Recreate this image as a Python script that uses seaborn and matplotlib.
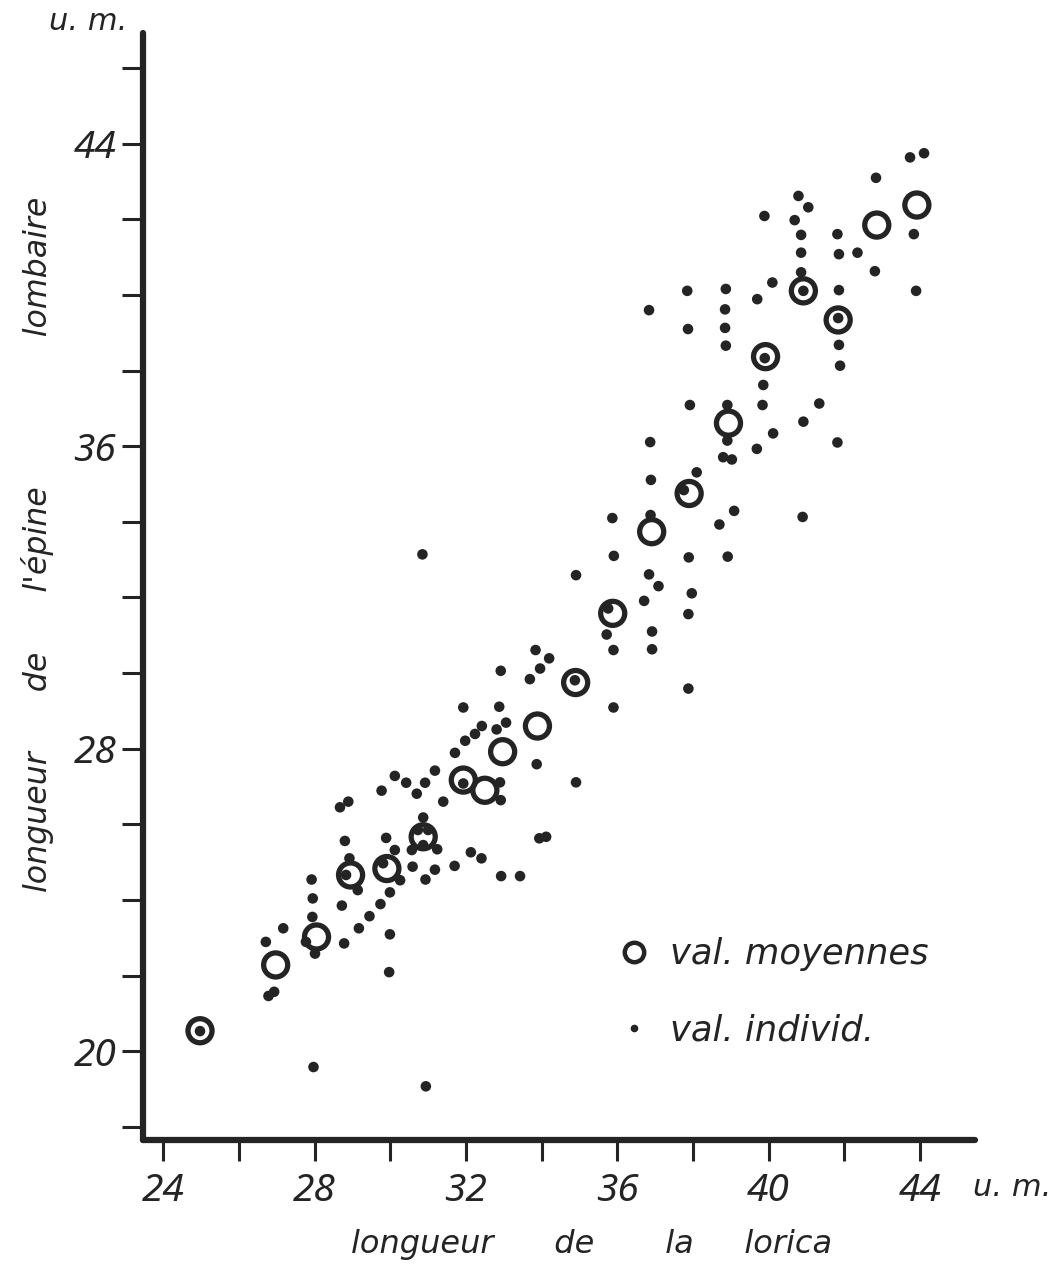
import matplotlib
matplotlib.use("Agg")
import matplotlib.pyplot as plt
from matplotlib.font_manager import FontProperties
from matplotlib.lines import Line2D
from matplotlib.ticker import FixedLocator
import seaborn as sns
import numpy as np

# ---------------- data ----------------
mean_x = [24.97, 26.97, 28.05, 28.95, 29.91, 30.87, 31.93, 32.50, 32.97, 33.89,
          34.90, 35.88, 36.91, 37.90, 38.94, 39.92, 40.92, 41.84, 42.86, 43.92]
mean_y = [20.54, 22.28, 23.02, 24.66, 24.83, 25.67, 27.17, 26.90, 27.92, 28.60,
          29.75, 31.58, 33.74, 34.75, 36.61, 38.37, 40.11, 39.34, 41.85, 42.38]

ind_x = [24.97, 27.97, 30.94, 26.78, 26.93, 26.71, 27.17, 28.01, 27.77, 27.94,
         27.95, 27.92, 28.78, 29.17, 29.45, 29.74, 29.99, 29.99, 29.97, 28.72,
         28.92, 29.14, 28.80, 28.67, 28.89, 30.26, 30.12, 29.89, 29.77, 30.42,
         30.92, 30.70, 31.40, 30.87, 30.57, 31.24, 30.59, 30.93, 31.18, 31.70,
         32.13, 32.41, 28.83, 29.81, 30.73, 31.00, 30.87,
         30.12, 31.18, 31.71, 31.98, 32.24, 32.42, 31.93, 31.93, 32.90, 32.92,
         32.81, 33.06, 32.88, 32.92, 33.69, 33.96, 34.20, 33.84, 33.87, 33.94,
         34.12, 34.91, 35.90, 35.90, 36.92, 36.92, 35.72, 32.93, 33.43, 34.88,
         35.76, 36.71, 37.09, 36.84, 34.91, 35.91, 37.88, 37.97, 37.89, 38.92,
         38.70, 39.09, 40.90, 37.88, 35.87, 36.89, 38.10, 36.87, 38.91, 39.69,
         36.88, 37.76, 38.80, 39.03, 41.82,
         43.74, 44.11, 42.84, 43.84, 43.90, 42.81, 42.35, 41.86, 41.82, 40.79,
         41.05, 40.69, 40.86, 40.86, 39.89, 40.86, 40.92, 40.10, 39.70, 41.86,
         41.86, 41.89, 38.87, 37.85, 36.84, 38.85, 37.87, 38.85, 38.87, 39.86,
         39.84, 41.34, 40.92, 40.12, 37.92, 38.91, 41.84, 39.90, 30.85]
ind_y = [20.53, 19.58, 19.07, 21.46, 21.57, 22.89, 23.25, 22.58, 22.89, 23.55,
         24.04, 24.54, 22.85, 23.25, 23.57, 23.89, 24.20, 23.09, 22.09, 23.85,
         25.10, 24.26, 25.56, 26.45, 26.60, 24.52, 25.32, 25.64, 26.89, 27.10,
         27.10, 26.81, 26.60, 26.18, 25.32, 25.34, 24.88, 24.54, 24.80, 24.90,
         25.26, 25.10, 24.66, 24.97, 25.85, 25.85, 25.45,
         27.28, 27.42, 27.89, 28.21, 28.39, 28.60, 29.09, 27.08, 27.11, 26.64,
         28.51, 28.69, 29.11, 30.06, 29.84, 30.12, 30.39, 30.61, 27.59, 25.63,
         25.67, 27.11, 29.09, 30.61, 30.63, 31.10, 31.02, 24.63, 24.63, 29.81,
         31.71, 31.91, 32.30, 32.61, 32.59, 33.10, 31.56, 32.11, 33.06, 33.08,
         33.93, 34.29, 34.13, 29.59, 34.10, 35.11, 35.31, 36.11, 36.15, 35.93,
         34.18, 34.84, 35.71, 35.65, 36.10,
         43.64, 43.75, 43.10, 41.61, 40.11, 40.63, 41.12, 41.08, 41.61, 42.62,
         42.32, 41.98, 41.59, 41.12, 42.09, 40.60, 40.11, 40.33, 39.89, 40.13,
         38.68, 38.13, 40.16, 40.11, 39.60, 39.62, 39.10, 39.13, 38.66, 37.62,
         37.09, 37.13, 36.65, 36.34, 37.09, 37.09, 39.39, 38.33, 33.14]

x_ticks_labeled = [24, 28, 32, 36, 40, 44]
x_ticks_minor = [26, 30, 34, 38, 42]
y_ticks_labeled = [20, 28, 36, 44]
y_ticks_minor = [18, 22, 24, 26, 30, 32, 34, 38, 40, 42, 46]

legend_labels = ["val. moyennes", "val. individ."]
x_label = "longueur      de       la     lorica"
y_label = "longueur      de      l'épine               lombaire"
unit = "u. m."

# ---------------- style ----------------
sns.set_style("white")
plt.rcParams['font.family'] = ['DejaVu Sans']
ink = "#242424"

fig = plt.figure(figsize=(10.61, 12.82), dpi=100)
fig.patch.set_facecolor("white")
ax = fig.add_axes([142.7 / 1061, 1 - 1140 / 1282, (975 - 142.7) / 1061, (1140 - 33) / 1282])

sns.scatterplot(x=ind_x, y=ind_y, ax=ax, s=58, color=ink, edgecolor="none",
                linewidth=0, legend=False, zorder=3)
sns.scatterplot(x=mean_x, y=mean_y, ax=ax, s=300, marker="o", legend=False, zorder=4)
coll = ax.collections[-1]
coll.set_facecolor("none")
coll.set_edgecolor(ink)
coll.set_linewidth(3.8)

ax.set_xlim(23.455, 45.457)
ax.set_ylim(17.65, 46.93)

for side in ["top", "right"]:
    ax.spines[side].set_visible(False)
for side in ["left", "bottom"]:
    ax.spines[side].set_linewidth(4.5)
    ax.spines[side].set_color(ink)
    ax.spines[side].set_capstyle("round")

ax.xaxis.set_major_locator(FixedLocator(x_ticks_labeled))
ax.xaxis.set_minor_locator(FixedLocator(x_ticks_minor))
ax.yaxis.set_major_locator(FixedLocator(y_ticks_labeled))
ax.yaxis.set_minor_locator(FixedLocator(y_ticks_minor))

tick_fp = FontProperties(family=['Noto Sans', 'DejaVu Sans'], style='italic',
                         stretch='condensed', size=28)
ax.set_xticklabels([str(v) for v in x_ticks_labeled], fontproperties=tick_fp, color=ink)
ax.set_yticklabels([str(v) for v in y_ticks_labeled], fontproperties=tick_fp, color=ink)

ax.tick_params(axis="x", which="both", direction="out", length=15, width=2.2,
               color=ink, pad=8, bottom=True)
ax.tick_params(axis="y", which="both", direction="out", length=15, width=2.2,
               color=ink, pad=4, left=True)

xlab_fp = FontProperties(family=['DejaVu Sans'], style='italic', size=23)
ylab_fp = FontProperties(family=['DejaVu Sans'], style='italic', size=22.8)
ax.set_xlabel(x_label, fontproperties=xlab_fp, color=ink)
ax.xaxis.set_label_coords((592 - 142.7) / 832.3, (1140 - 1245) / 1107)
ax.xaxis.label.set_va("center")
ax.set_ylabel(y_label, fontproperties=ylab_fp, color=ink)
ax.yaxis.set_label_coords((38 - 142.7) / 832.3, (1140 - 544) / 1107)
ax.yaxis.label.set_va("center")

unit_fp = FontProperties(family=['DejaVu Sans'], style='italic', size=22)
fig.text(88 / 1061, 1 - 22 / 1282, unit, fontproperties=unit_fp, color=ink,
         ha="center", va="center")
fig.text(1012 / 1061, 1 - 1188 / 1282, unit, fontproperties=unit_fp, color=ink,
         ha="center", va="center")

handles = [
    Line2D([], [], marker="o", linestyle="", markerfacecolor="none",
           markeredgecolor=ink, markeredgewidth=3.2, markersize=14),
    Line2D([], [], marker="o", linestyle="", markerfacecolor=ink,
           markeredgecolor="none", markersize=5.5),
]
leg = ax.legend(handles, legend_labels, loc="upper left",
                bbox_to_anchor=((617 - 142.7) / 832.3, (1140 - 937) / 1107),
                frameon=False, prop=FontProperties(family=['DejaVu Sans'], style='italic', size=25.5),
                handlelength=0.95, handletextpad=0.55, labelspacing=1.2, borderpad=0,
                borderaxespad=0)
for t in leg.get_texts():
    t.set_color(ink)

fig.savefig("out.png", dpi=100, facecolor="white")
